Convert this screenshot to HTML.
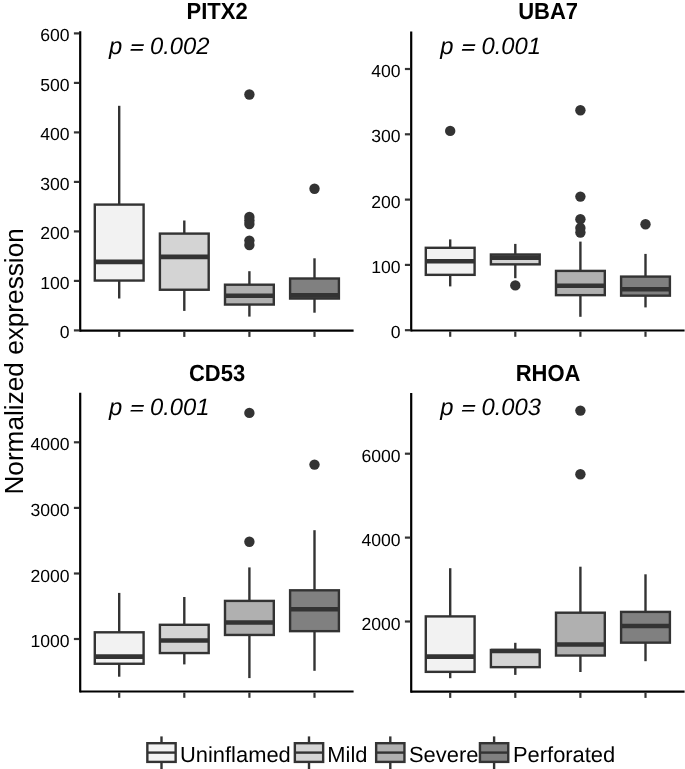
<!DOCTYPE html>
<html><head><meta charset="utf-8"><title>Normalized expression boxplots</title>
<style>
html,body{margin:0;padding:0;background:#fff;}
body{width:685px;height:769px;overflow:hidden;}
svg{display:block;filter:grayscale(1);}
text{font-family:"Liberation Sans", sans-serif;fill:#000;text-rendering:geometricPrecision;}
.ax{font-size:17.6px;}
.ti{font-size:22px;font-weight:bold;}
.pv{font-size:23.8px;font-style:italic;}
.lg{font-size:21.9px;}
.yt{font-size:26.2px;}
</style></head>
<body>
<svg width="685" height="769" viewBox="0 0 685 769">
<rect width="685" height="769" fill="#fff"/>
<line x1="119.2" y1="105.8" x2="119.2" y2="204.6" stroke="#333333" stroke-width="2.4"/>
<line x1="119.2" y1="280.55" x2="119.2" y2="298.5" stroke="#333333" stroke-width="2.4"/>
<rect x="94.8" y="204.6" width="48.8" height="75.95" fill="#F2F2F2" stroke="#333333" stroke-width="2.4"/>
<line x1="94.8" y1="261.85" x2="143.6" y2="261.85" stroke="#333333" stroke-width="4.6"/>
<line x1="184.3" y1="220.5" x2="184.3" y2="233.6" stroke="#333333" stroke-width="2.4"/>
<line x1="184.3" y1="289.75" x2="184.3" y2="310.9" stroke="#333333" stroke-width="2.4"/>
<rect x="159.9" y="233.6" width="48.8" height="56.15" fill="#D4D4D4" stroke="#333333" stroke-width="2.4"/>
<line x1="159.9" y1="256.85" x2="208.7" y2="256.85" stroke="#333333" stroke-width="4.6"/>
<line x1="249.4" y1="271.2" x2="249.4" y2="284.7" stroke="#333333" stroke-width="2.4"/>
<line x1="249.4" y1="304.55" x2="249.4" y2="316.6" stroke="#333333" stroke-width="2.4"/>
<rect x="225" y="284.7" width="48.8" height="19.85" fill="#B0B0B0" stroke="#333333" stroke-width="2.4"/>
<line x1="225" y1="295.75" x2="273.8" y2="295.75" stroke="#333333" stroke-width="4.6"/>
<circle cx="249.4" cy="94.5" r="5.2" fill="#333333"/>
<circle cx="249.4" cy="217" r="5.2" fill="#333333"/>
<circle cx="249.4" cy="220.5" r="5.2" fill="#333333"/>
<circle cx="249.4" cy="224" r="5.2" fill="#333333"/>
<circle cx="249.4" cy="240.6" r="5.2" fill="#333333"/>
<circle cx="249.4" cy="245" r="5.2" fill="#333333"/>
<line x1="314.5" y1="258.3" x2="314.5" y2="278.5" stroke="#333333" stroke-width="2.4"/>
<line x1="314.5" y1="298.55" x2="314.5" y2="312.7" stroke="#333333" stroke-width="2.4"/>
<rect x="290.1" y="278.5" width="48.8" height="20.05" fill="#808080" stroke="#333333" stroke-width="2.4"/>
<line x1="290.1" y1="295.35" x2="338.9" y2="295.35" stroke="#333333" stroke-width="4.6"/>
<circle cx="314.5" cy="188.8" r="5.2" fill="#333333"/>
<line x1="80.2" y1="31.2" x2="80.2" y2="331.7" stroke="#000" stroke-width="2.2"/>
<line x1="80.2" y1="330.6" x2="353.6" y2="330.6" stroke="#000" stroke-width="2.2"/>
<line x1="73.9" y1="330.4" x2="79.2" y2="330.4" stroke="#333333" stroke-width="2.2"/>
<text x="69.6" y="338.45" text-anchor="end" class="ax">0</text>
<line x1="73.9" y1="280.9" x2="79.2" y2="280.9" stroke="#333333" stroke-width="2.2"/>
<text x="69.6" y="288.95" text-anchor="end" class="ax">100</text>
<line x1="73.9" y1="231.4" x2="79.2" y2="231.4" stroke="#333333" stroke-width="2.2"/>
<text x="69.6" y="239.45" text-anchor="end" class="ax">200</text>
<line x1="73.9" y1="181.9" x2="79.2" y2="181.9" stroke="#333333" stroke-width="2.2"/>
<text x="69.6" y="189.95" text-anchor="end" class="ax">300</text>
<line x1="73.9" y1="132.4" x2="79.2" y2="132.4" stroke="#333333" stroke-width="2.2"/>
<text x="69.6" y="140.45" text-anchor="end" class="ax">400</text>
<line x1="73.9" y1="82.9" x2="79.2" y2="82.9" stroke="#333333" stroke-width="2.2"/>
<text x="69.6" y="90.95" text-anchor="end" class="ax">500</text>
<line x1="73.9" y1="33.4" x2="79.2" y2="33.4" stroke="#333333" stroke-width="2.2"/>
<text x="69.6" y="41.45" text-anchor="end" class="ax">600</text>
<line x1="119.2" y1="331.6" x2="119.2" y2="336.9" stroke="#333333" stroke-width="2.2"/>
<line x1="184.3" y1="331.6" x2="184.3" y2="336.9" stroke="#333333" stroke-width="2.2"/>
<line x1="249.4" y1="331.6" x2="249.4" y2="336.9" stroke="#333333" stroke-width="2.2"/>
<line x1="314.5" y1="331.6" x2="314.5" y2="336.9" stroke="#333333" stroke-width="2.2"/>
<text transform="translate(217.1,19.1) scale(1,1.06)" text-anchor="middle" class="ti">PITX2</text>
<text x="108.9" y="53.8" class="pv">p</text>
<polygon points="131.9,44.2 144,44.2 143.6,46 131.5,46" fill="#000"/>
<polygon points="130.8,49.1 143,49.1 142.6,50.8 130.4,50.8" fill="#000"/>
<text x="150" y="53.8" class="pv">0.002</text>
<line x1="450.2" y1="239.4" x2="450.2" y2="247.8" stroke="#333333" stroke-width="2.4"/>
<line x1="450.2" y1="274.85" x2="450.2" y2="286.4" stroke="#333333" stroke-width="2.4"/>
<rect x="425.8" y="247.8" width="48.8" height="27.05" fill="#F2F2F2" stroke="#333333" stroke-width="2.4"/>
<line x1="425.8" y1="261.25" x2="474.6" y2="261.25" stroke="#333333" stroke-width="4.6"/>
<circle cx="450.2" cy="130.9" r="5.2" fill="#333333"/>
<line x1="515.3" y1="243.9" x2="515.3" y2="254.5" stroke="#333333" stroke-width="2.4"/>
<line x1="515.3" y1="264.35" x2="515.3" y2="278.2" stroke="#333333" stroke-width="2.4"/>
<rect x="490.9" y="254.5" width="48.8" height="9.85" fill="#D4D4D4" stroke="#333333" stroke-width="2.4"/>
<line x1="490.9" y1="257.6" x2="539.7" y2="257.6" stroke="#333333" stroke-width="4.6"/>
<circle cx="515.3" cy="285.4" r="5.2" fill="#333333"/>
<line x1="580.4" y1="241.6" x2="580.4" y2="270.9" stroke="#333333" stroke-width="2.4"/>
<line x1="580.4" y1="295.15" x2="580.4" y2="316.8" stroke="#333333" stroke-width="2.4"/>
<rect x="556" y="270.9" width="48.8" height="24.25" fill="#B0B0B0" stroke="#333333" stroke-width="2.4"/>
<line x1="556" y1="285.75" x2="604.8" y2="285.75" stroke="#333333" stroke-width="4.6"/>
<circle cx="580.4" cy="110.2" r="5.2" fill="#333333"/>
<circle cx="580.4" cy="196.6" r="5.2" fill="#333333"/>
<circle cx="580.4" cy="219.3" r="5.2" fill="#333333"/>
<circle cx="580.4" cy="228" r="5.2" fill="#333333"/>
<circle cx="580.4" cy="232.5" r="5.2" fill="#333333"/>
<line x1="645.5" y1="253.9" x2="645.5" y2="276.6" stroke="#333333" stroke-width="2.4"/>
<line x1="645.5" y1="295.65" x2="645.5" y2="307.4" stroke="#333333" stroke-width="2.4"/>
<rect x="621.1" y="276.6" width="48.8" height="19.05" fill="#808080" stroke="#333333" stroke-width="2.4"/>
<line x1="621.1" y1="289.25" x2="669.9" y2="289.25" stroke="#333333" stroke-width="4.6"/>
<circle cx="645.5" cy="224.2" r="5.2" fill="#333333"/>
<line x1="411.2" y1="31.6" x2="411.2" y2="331.6" stroke="#000" stroke-width="2.2"/>
<line x1="411.2" y1="330.5" x2="684.6" y2="330.5" stroke="#000" stroke-width="2.2"/>
<line x1="404.9" y1="330.2" x2="410.2" y2="330.2" stroke="#333333" stroke-width="2.2"/>
<text x="400.6" y="338.25" text-anchor="end" class="ax">0</text>
<line x1="404.9" y1="264.9" x2="410.2" y2="264.9" stroke="#333333" stroke-width="2.2"/>
<text x="400.6" y="272.95" text-anchor="end" class="ax">100</text>
<line x1="404.9" y1="199.6" x2="410.2" y2="199.6" stroke="#333333" stroke-width="2.2"/>
<text x="400.6" y="207.65" text-anchor="end" class="ax">200</text>
<line x1="404.9" y1="134.3" x2="410.2" y2="134.3" stroke="#333333" stroke-width="2.2"/>
<text x="400.6" y="142.35" text-anchor="end" class="ax">300</text>
<line x1="404.9" y1="69" x2="410.2" y2="69" stroke="#333333" stroke-width="2.2"/>
<text x="400.6" y="77.05" text-anchor="end" class="ax">400</text>
<line x1="450.2" y1="331.5" x2="450.2" y2="336.8" stroke="#333333" stroke-width="2.2"/>
<line x1="515.3" y1="331.5" x2="515.3" y2="336.8" stroke="#333333" stroke-width="2.2"/>
<line x1="580.4" y1="331.5" x2="580.4" y2="336.8" stroke="#333333" stroke-width="2.2"/>
<line x1="645.5" y1="331.5" x2="645.5" y2="336.8" stroke="#333333" stroke-width="2.2"/>
<text transform="translate(548.1,19.1) scale(1,1.06)" text-anchor="middle" class="ti">UBA7</text>
<text x="440.3" y="53.8" class="pv">p</text>
<polygon points="463.3,44.2 475.4,44.2 475,46 462.9,46" fill="#000"/>
<polygon points="462.2,49.1 474.4,49.1 474,50.8 461.8,50.8" fill="#000"/>
<text x="481.4" y="53.8" class="pv">0.001</text>
<line x1="119.2" y1="592.9" x2="119.2" y2="632.3" stroke="#333333" stroke-width="2.4"/>
<line x1="119.2" y1="663.75" x2="119.2" y2="676.7" stroke="#333333" stroke-width="2.4"/>
<rect x="94.8" y="632.3" width="48.8" height="31.45" fill="#F2F2F2" stroke="#333333" stroke-width="2.4"/>
<line x1="94.8" y1="656.65" x2="143.6" y2="656.65" stroke="#333333" stroke-width="4.6"/>
<line x1="184.3" y1="597" x2="184.3" y2="624.8" stroke="#333333" stroke-width="2.4"/>
<line x1="184.3" y1="653.05" x2="184.3" y2="664.4" stroke="#333333" stroke-width="2.4"/>
<rect x="159.9" y="624.8" width="48.8" height="28.25" fill="#D4D4D4" stroke="#333333" stroke-width="2.4"/>
<line x1="159.9" y1="640.55" x2="208.7" y2="640.55" stroke="#333333" stroke-width="4.6"/>
<line x1="249.4" y1="567.4" x2="249.4" y2="600.9" stroke="#333333" stroke-width="2.4"/>
<line x1="249.4" y1="634.95" x2="249.4" y2="678.1" stroke="#333333" stroke-width="2.4"/>
<rect x="225" y="600.9" width="48.8" height="34.05" fill="#B0B0B0" stroke="#333333" stroke-width="2.4"/>
<line x1="225" y1="622.45" x2="273.8" y2="622.45" stroke="#333333" stroke-width="4.6"/>
<circle cx="249.4" cy="412.9" r="5.2" fill="#333333"/>
<circle cx="249.4" cy="541.7" r="5.2" fill="#333333"/>
<line x1="314.5" y1="530.2" x2="314.5" y2="590.3" stroke="#333333" stroke-width="2.4"/>
<line x1="314.5" y1="631.15" x2="314.5" y2="670.8" stroke="#333333" stroke-width="2.4"/>
<rect x="290.1" y="590.3" width="48.8" height="40.85" fill="#808080" stroke="#333333" stroke-width="2.4"/>
<line x1="290.1" y1="609.25" x2="338.9" y2="609.25" stroke="#333333" stroke-width="4.6"/>
<circle cx="314.5" cy="464.6" r="5.2" fill="#333333"/>
<line x1="80.2" y1="392.8" x2="80.2" y2="692.6" stroke="#000" stroke-width="2.2"/>
<line x1="80.2" y1="691.5" x2="353.6" y2="691.5" stroke="#000" stroke-width="2.2"/>
<line x1="73.9" y1="639" x2="79.2" y2="639" stroke="#333333" stroke-width="2.2"/>
<text x="69.6" y="647.05" text-anchor="end" class="ax">1000</text>
<line x1="73.9" y1="573.5" x2="79.2" y2="573.5" stroke="#333333" stroke-width="2.2"/>
<text x="69.6" y="581.55" text-anchor="end" class="ax">2000</text>
<line x1="73.9" y1="507.9" x2="79.2" y2="507.9" stroke="#333333" stroke-width="2.2"/>
<text x="69.6" y="515.95" text-anchor="end" class="ax">3000</text>
<line x1="73.9" y1="442.3" x2="79.2" y2="442.3" stroke="#333333" stroke-width="2.2"/>
<text x="69.6" y="450.35" text-anchor="end" class="ax">4000</text>
<line x1="119.2" y1="692.5" x2="119.2" y2="697.8" stroke="#333333" stroke-width="2.2"/>
<line x1="184.3" y1="692.5" x2="184.3" y2="697.8" stroke="#333333" stroke-width="2.2"/>
<line x1="249.4" y1="692.5" x2="249.4" y2="697.8" stroke="#333333" stroke-width="2.2"/>
<line x1="314.5" y1="692.5" x2="314.5" y2="697.8" stroke="#333333" stroke-width="2.2"/>
<text transform="translate(217.1,381) scale(1,1.06)" text-anchor="middle" class="ti">CD53</text>
<text x="108.9" y="414.6" class="pv">p</text>
<polygon points="131.9,405 144,405 143.6,406.8 131.5,406.8" fill="#000"/>
<polygon points="130.8,409.9 143,409.9 142.6,411.6 130.4,411.6" fill="#000"/>
<text x="150" y="414.6" class="pv">0.001</text>
<line x1="450.2" y1="568.2" x2="450.2" y2="616.4" stroke="#333333" stroke-width="2.4"/>
<line x1="450.2" y1="671.85" x2="450.2" y2="678.2" stroke="#333333" stroke-width="2.4"/>
<rect x="425.8" y="616.4" width="48.8" height="55.45" fill="#F2F2F2" stroke="#333333" stroke-width="2.4"/>
<line x1="425.8" y1="656.65" x2="474.6" y2="656.65" stroke="#333333" stroke-width="4.6"/>
<line x1="515.3" y1="642.8" x2="515.3" y2="650" stroke="#333333" stroke-width="2.4"/>
<line x1="515.3" y1="667.15" x2="515.3" y2="674.9" stroke="#333333" stroke-width="2.4"/>
<rect x="490.9" y="650" width="48.8" height="17.15" fill="#D4D4D4" stroke="#333333" stroke-width="2.4"/>
<line x1="490.9" y1="650.95" x2="539.7" y2="650.95" stroke="#333333" stroke-width="4.6"/>
<line x1="580.4" y1="566.7" x2="580.4" y2="612.7" stroke="#333333" stroke-width="2.4"/>
<line x1="580.4" y1="655.55" x2="580.4" y2="672" stroke="#333333" stroke-width="2.4"/>
<rect x="556" y="612.7" width="48.8" height="42.85" fill="#B0B0B0" stroke="#333333" stroke-width="2.4"/>
<line x1="556" y1="644.45" x2="604.8" y2="644.45" stroke="#333333" stroke-width="4.6"/>
<circle cx="580.4" cy="410.6" r="5.2" fill="#333333"/>
<circle cx="580.4" cy="474.3" r="5.2" fill="#333333"/>
<line x1="645.5" y1="574.3" x2="645.5" y2="611.9" stroke="#333333" stroke-width="2.4"/>
<line x1="645.5" y1="642.65" x2="645.5" y2="661.2" stroke="#333333" stroke-width="2.4"/>
<rect x="621.1" y="611.9" width="48.8" height="30.75" fill="#808080" stroke="#333333" stroke-width="2.4"/>
<line x1="621.1" y1="626.05" x2="669.9" y2="626.05" stroke="#333333" stroke-width="4.6"/>
<line x1="411.2" y1="392.9" x2="411.2" y2="692.7" stroke="#000" stroke-width="2.2"/>
<line x1="411.2" y1="691.6" x2="684.6" y2="691.6" stroke="#000" stroke-width="2.2"/>
<line x1="404.9" y1="621.5" x2="410.2" y2="621.5" stroke="#333333" stroke-width="2.2"/>
<text x="400.6" y="629.55" text-anchor="end" class="ax">2000</text>
<line x1="404.9" y1="537.6" x2="410.2" y2="537.6" stroke="#333333" stroke-width="2.2"/>
<text x="400.6" y="545.65" text-anchor="end" class="ax">4000</text>
<line x1="404.9" y1="453.7" x2="410.2" y2="453.7" stroke="#333333" stroke-width="2.2"/>
<text x="400.6" y="461.75" text-anchor="end" class="ax">6000</text>
<line x1="450.2" y1="692.6" x2="450.2" y2="697.9" stroke="#333333" stroke-width="2.2"/>
<line x1="515.3" y1="692.6" x2="515.3" y2="697.9" stroke="#333333" stroke-width="2.2"/>
<line x1="580.4" y1="692.6" x2="580.4" y2="697.9" stroke="#333333" stroke-width="2.2"/>
<line x1="645.5" y1="692.6" x2="645.5" y2="697.9" stroke="#333333" stroke-width="2.2"/>
<text transform="translate(548.1,381) scale(1,1.06)" text-anchor="middle" class="ti">RHOA</text>
<text x="440.3" y="414.6" class="pv">p</text>
<polygon points="463.3,405 475.4,405 475,406.8 462.9,406.8" fill="#000"/>
<polygon points="462.2,409.9 474.4,409.9 474,411.6 461.8,411.6" fill="#000"/>
<text x="481.4" y="414.6" class="pv">0.003</text>
<line x1="161.5" y1="736.4" x2="161.5" y2="743.2" stroke="#333333" stroke-width="2.4"/>
<line x1="161.5" y1="761.9" x2="161.5" y2="769" stroke="#333333" stroke-width="2.4"/>
<rect x="147.35" y="743.2" width="28.3" height="18.7" fill="#F2F2F2" stroke="#333333" stroke-width="2.4"/>
<line x1="147.35" y1="752.6" x2="175.65" y2="752.6" stroke="#333333" stroke-width="2.4"/>
<text x="180" y="761.8" class="lg">Uninflamed</text>
<line x1="309" y1="736.4" x2="309" y2="743.2" stroke="#333333" stroke-width="2.4"/>
<line x1="309" y1="761.9" x2="309" y2="769" stroke="#333333" stroke-width="2.4"/>
<rect x="294.85" y="743.2" width="28.3" height="18.7" fill="#D4D4D4" stroke="#333333" stroke-width="2.4"/>
<line x1="294.85" y1="752.6" x2="323.15" y2="752.6" stroke="#333333" stroke-width="2.4"/>
<text x="327.3" y="761.8" class="lg">Mild</text>
<line x1="390.3" y1="736.4" x2="390.3" y2="743.2" stroke="#333333" stroke-width="2.4"/>
<line x1="390.3" y1="761.9" x2="390.3" y2="769" stroke="#333333" stroke-width="2.4"/>
<rect x="376.15" y="743.2" width="28.3" height="18.7" fill="#B0B0B0" stroke="#333333" stroke-width="2.4"/>
<line x1="376.15" y1="752.6" x2="404.45" y2="752.6" stroke="#333333" stroke-width="2.4"/>
<text x="409" y="761.8" class="lg">Severe</text>
<line x1="494.1" y1="736.4" x2="494.1" y2="743.2" stroke="#333333" stroke-width="2.4"/>
<line x1="494.1" y1="761.9" x2="494.1" y2="769" stroke="#333333" stroke-width="2.4"/>
<rect x="479.95" y="743.2" width="28.3" height="18.7" fill="#808080" stroke="#333333" stroke-width="2.4"/>
<line x1="479.95" y1="752.6" x2="508.25" y2="752.6" stroke="#333333" stroke-width="2.4"/>
<text x="513" y="761.8" class="lg">Perforated</text>
<text transform="translate(22.7,361.4) rotate(-90)" text-anchor="middle" class="yt">Normalized expression</text>
</svg>
</body></html>
